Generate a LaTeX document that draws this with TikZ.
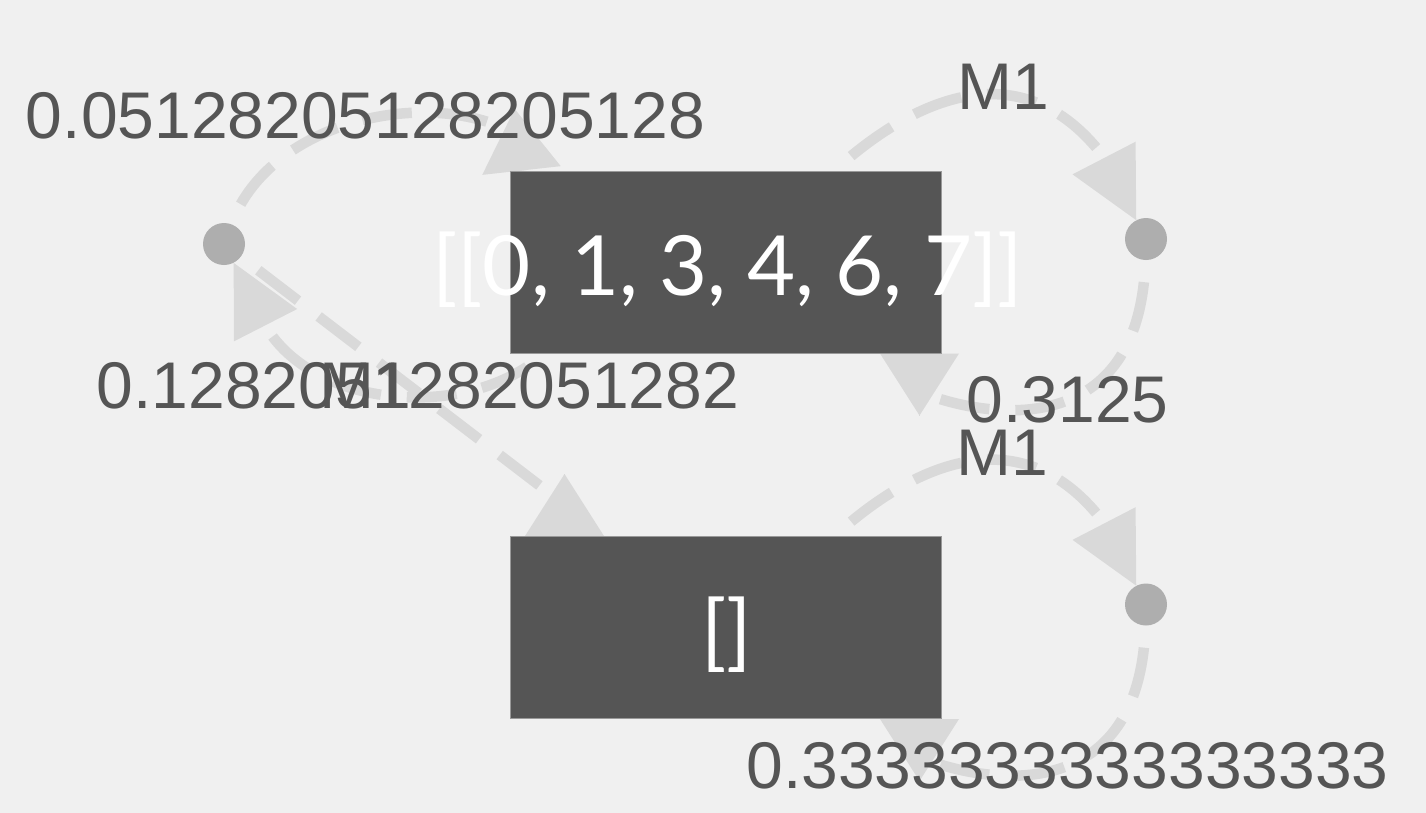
\documentclass[tikz,border=0pt]{standalone}
\usepackage{fontspec}
\setmainfont{Liberation Sans}
\newfontfamily\boxfont{Lato}
\usetikzlibrary{arrows.meta}
\definecolor{bgc}{HTML}{F0F0F0}
\definecolor{edgec}{HTML}{D9D9D9}
\definecolor{dotc}{HTML}{AEAEAE}
\definecolor{boxc}{HTML}{555555}
\definecolor{boxline}{HTML}{999999}
\definecolor{labc}{HTML}{555555}
\pgfdeclarelayer{bglayer}
\pgfdeclarelayer{edgelayer}
\pgfsetlayers{bglayer,edgelayer,main}
\tikzset{
  edge/.style={draw=edgec, line width=10.5pt, dash pattern=on 50pt off 26pt, dash phase=54pt},
  tipin/.style={-{Triangle[length=70pt,width=71pt,line width=0pt]}},
  invhead/.style={draw=edgec, line width=0.1pt, -{Triangle[reversed,length=62pt,width=79pt,line width=0pt]}},
  statebox/.style={rectangle, fill=boxc, draw=boxline, line width=1pt,
    minimum width=431pt, minimum height=182pt, inner sep=0pt},
  actdot/.style={circle, fill=dotc, minimum size=42pt, inner sep=0pt},
  boxtext/.style={text=white, font=\boxfont\fontsize{83}{98}\selectfont, anchor=base, inner sep=0pt},
  elabel/.style={text=labc, font=\fontsize{66}{79}\selectfont, anchor=base, inner sep=0pt},
}
\begin{document}
\begin{tikzpicture}[x=1pt,y=-1pt]
\useasboundingbox (0,0) rectangle (1426,812);
\begin{pgfonlayer}{bglayer}
  \fill[bgc] (-6,-6) rectangle (1432,818);
\end{pgfonlayer}

% nodes
\node[statebox] (b1) at (725.5,262) {};
\node[statebox] (b2) at (725.5,627.5) {};
\node[actdot] (d1) at (224,244) {};
\node[actdot] (dtr) at (1146,239) {};
\node[actdot] (dbr) at (1146,604.5) {};

% edges
\begin{pgfonlayer}{edgelayer}
  % d1 -> b1 (0.0512...)
  \draw[edge] (d1) .. controls (270,120) and (430,85) .. (518,135)
        -- ([xshift=12pt]b1.north west);
  \draw[invhead] ([xshift=8pt,yshift=36pt]b1.north west) -- ([xshift=12pt]b1.north west);
  % b1 -> d1 (M1)
  \draw[edge,tipin] ([xshift=35pt]b1.south west) .. controls (470,420) and (320,410) .. (268,330)
        -- (d1);
  % d1 -> b2 (0.128...)
  \draw[edge] (d1) -- (565,505) -- ([xshift=55pt]b2.north west);
  \draw[invhead] ([xshift=55pt,yshift=32pt]b2.north west) -- ([xshift=55pt]b2.north west);
  % b1 -> dtr (M1)
  \draw[edge,tipin] ([xshift=325pt]b1.north west) .. controls (890,120) and (1010,35) .. (1103,156)
        -- (dtr);
  % dtr -> b1 (0.3125)
  \draw[edge] (dtr) .. controls (1140,440) and (990,420) .. (920,392)
        -- ([xshift=410pt]b1.south west);
  \draw[invhead] ([xshift=410pt,yshift=-39pt]b1.south west) -- ([xshift=410pt]b1.south west);
  % b2 -> dbr (M1)
  \draw[edge,tipin] ([xshift=325pt]b2.north west) .. controls (890,485.5) and (1010,400.5) .. (1103,521.5)
        -- (dbr);
  % dbr -> b2 (0.333...)
  \draw[edge] (dbr) .. controls (1140,805.5) and (990,785.5) .. (920,757.5)
        -- ([xshift=410pt]b2.south west);
  \draw[invhead] ([xshift=410pt,yshift=-39pt]b2.south west) -- ([xshift=410pt]b2.south west);
\end{pgfonlayer}

% box texts
\node[boxtext] (t1) at (727.5,295) {[[0, 1, 3, 4, 6, 7]]};
\node[boxtext] (t2) at (726.5,660) {[]};

% edge labels
\node[elabel] (l1) at (365.5,138) {0.05128205128205128};
\node[elabel] (l2) at (418,408) {0.1282051282051282};
\node[elabel] (l3) at (365,408) {M1};
\node[elabel] (l4) at (1003,109) {M1};
\node[elabel] (l5) at (1067.5,422) {0.3125};
\node[elabel] (l6) at (1002,475) {M1};
\node[elabel] (l7) at (1067.5,788) {0.3333333333333333};
\end{tikzpicture}
\end{document}
